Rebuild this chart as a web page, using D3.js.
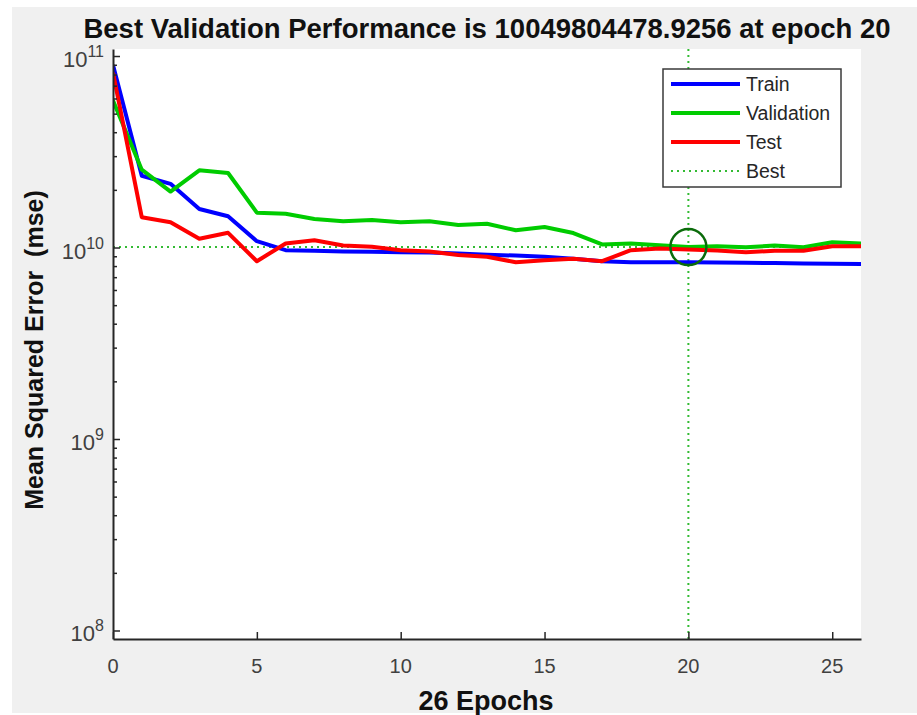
<!DOCTYPE html>
<html>
<head>
<meta charset="utf-8">
<script src="https://cdn.jsdelivr.net/npm/d3@7"></script>
<style>
  body { margin: 0; background: #fff; }
  text { font-family: "Liberation Sans", Arial, sans-serif; }
</style>
</head>
<body>
<div id="chart"></div>
<script>
// performance per epoch
const epochs = [0, 1, 2, 3, 4, 5, 6, 7, 8, 9, 10, 11, 12, 13, 14, 15, 16, 17, 18, 19, 20, 21, 22, 23, 24, 25, 26]
const trainPerf = [8.98e10, 2.37e10, 2.15e10, 1.59e10, 1.456e10, 1.079e10, 9.68e9, 9.61e9, 9.53e9, 9.50e9,
  9.45e9, 9.42e9, 9.31e9, 9.16e9, 9.08e9, 8.95e9, 8.73e9, 8.48e9, 8.38e9, 8.38e9,
  8.37e9, 8.35e9, 8.32e9, 8.30e9, 8.25e9, 8.22e9, 8.20e9]
const valPerf = [5.85e10, 2.55e10, 1.96e10, 2.53e10, 2.45e10, 1.52e10, 1.50e10, 1.41e10, 1.37e10, 1.39e10,
  1.355e10, 1.37e10, 1.31e10, 1.33e10, 1.23e10, 1.28e10, 1.19e10, 1.037e10, 1.049e10, 1.028e10,
  10049804478.9256, 1.016e10, 1.004e10, 1.024e10, 1.004e10, 1.066e10, 1.049e10]
const testPerf = [8.18e10, 1.44e10, 1.356e10, 1.11e10, 1.193e10, 8.48e9, 1.049e10, 1.091e10, 1.024e10, 1.008e10,
  9.68e9, 9.53e9, 9.14e9, 8.95e9, 8.38e9, 8.59e9, 8.73e9, 8.48e9, 9.68e9, 9.88e9,
  9.76e9, 9.65e9, 9.45e9, 9.61e9, 9.61e9, 1.016e10, 1.016e10]
const bestEpoch = 20
const bestPerf = 10049804478.9256
const seriesNames = ["Train", "Validation", "Test", "Best"]
const xTicks = [0, 5, 10, 15, 20, 25]
const yTicks = [1e8, 1e9, 1e10, 1e11]
const yTickExps = ["8", "9", "10", "11"]

const W = 917, H = 715
let plot = { left: 113, right: 861, top: 49, bottom: 639 }

const colors = {
  train: "#0000ff",
  val: "#00cc00",
  test: "#ff0000",
  best: "#33bb33",
  circle: "#0b6b0b",
  axis: "#262626"
}

let svg = d3.select("#chart").append("svg")
  .attr("width", W)
  .attr("height", H)

// figure background
svg.append("rect")
  .attr("x", 12).attr("y", 7)
  .attr("width", W - 12).attr("height", 706)
  .attr("fill", "#f0f0f0")

svg.append("rect")
  .attr("x", plot.left).attr("y", plot.top)
  .attr("width", plot.right - plot.left).attr("height", plot.bottom - plot.top)
  .attr("fill", "#fff")

let x = d3.scaleLinear().domain([0, 26]).range([plot.left, plot.right])
let y = d3.scaleLog()
  .domain([Math.pow(10, 7.9556), Math.pow(10, 11.0366)])
  .range([plot.bottom, plot.top])

svg.append("clipPath").attr("id", "clip")
  .append("rect")
  .attr("x", plot.left).attr("y", plot.top)
  .attr("width", plot.right - plot.left).attr("height", plot.bottom - plot.top)

let g = svg.append("g").attr("clip-path", "url(#clip)")

// best dotted lines
g.append("line")
  .attr("x1", plot.left).attr("x2", plot.right)
  .attr("y1", y(bestPerf)).attr("y2", y(bestPerf))
  .attr("stroke", colors.best).attr("stroke-width", 2)
  .attr("stroke-dasharray", "2,4")
g.append("line")
  .attr("x1", x(bestEpoch)).attr("x2", x(bestEpoch))
  .attr("y1", plot.top).attr("y2", plot.bottom)
  .attr("stroke", colors.best).attr("stroke-width", 2)
  .attr("stroke-dasharray", "2,4")

let line = d3.line()
  .x(function(d, i) { return x(epochs[i]) })
  .y(function(d) { return y(d) })

const series = [
  { values: trainPerf, color: colors.train },
  { values: valPerf, color: colors.val },
  { values: testPerf, color: colors.test }
]

g.selectAll(".series")
  .data(series)
  .enter()
  .append("path")
  .attr("class", "series")
  .attr("d", function(d) { return line(d.values) })
  .attr("fill", "none")
  .attr("stroke", function(d) { return d.color })
  .attr("stroke-width", 4)
  .attr("stroke-linejoin", "round")

// circle on the best point
g.append("circle")
  .attr("cx", x(bestEpoch))
  .attr("cy", y(bestPerf))
  .attr("r", 18)
  .attr("fill", "none")
  .attr("stroke", colors.circle)
  .attr("stroke-width", 2.5)

// axes
let xAxis = svg.append("g")
  .attr("transform", "translate(0," + plot.bottom + ")")
  .call(d3.axisBottom(x).tickValues(xTicks).tickSize(-7).tickSizeOuter(0).tickFormat(""))
xAxis.select(".domain").attr("stroke", colors.axis).attr("stroke-width", 2)
xAxis.selectAll(".tick line").attr("stroke", colors.axis).attr("stroke-width", 1.5)

let minorTicks = y.ticks().filter(function(v) { return yTicks.indexOf(v) < 0 })
let yMinor = svg.append("g")
  .attr("transform", "translate(" + plot.left + ",0)")
  .call(d3.axisLeft(y).tickValues(minorTicks).tickSize(-4).tickSizeOuter(0).tickFormat(""))
yMinor.select(".domain").remove()
yMinor.selectAll(".tick line").attr("stroke", colors.axis).attr("stroke-width", 1.5)

let yAxis = svg.append("g")
  .attr("transform", "translate(" + plot.left + ",0)")
  .call(d3.axisLeft(y).tickValues(yTicks).tickSize(-7).tickSizeOuter(0).tickFormat(""))
yAxis.select(".domain").attr("stroke", colors.axis).attr("stroke-width", 2)
yAxis.selectAll(".tick line").attr("stroke", colors.axis).attr("stroke-width", 1.5)

// tick labels
svg.selectAll(".xlabel")
  .data(xTicks)
  .enter()
  .append("text")
  .attr("class", "xlabel")
  .attr("x", function(d) { return x(d) })
  .attr("y", 673)
  .attr("text-anchor", "middle")
  .attr("font-size", 20)
  .attr("fill", "#404040")
  .text(function(d) { return d })

let yLabels = svg.selectAll(".ylabel")
  .data(yTicks)
  .enter()
  .append("text")
  .attr("class", "ylabel")
  .attr("x", 104)
  .attr("y", function(d) { return y(d) + 11 })
  .attr("text-anchor", "end")
  .attr("font-size", 22)
  .attr("fill", "#404040")
yLabels.append("tspan").text("10")
yLabels.append("tspan")
  .attr("dy", -10)
  .attr("font-size", 16)
  .text(function(d, i) { return yTickExps[i] })

// title and axis titles
svg.append("text")
  .attr("x", 487)
  .attr("y", 38)
  .attr("text-anchor", "middle")
  .attr("font-size", 27.5)
  .attr("font-weight", "bold")
  .attr("fill", "#111")
  .text("Best Validation Performance is " + bestPerf + " at epoch " + bestEpoch)

svg.append("text")
  .attr("x", 486)
  .attr("y", 710)
  .attr("text-anchor", "middle")
  .attr("font-size", 27)
  .attr("font-weight", "bold")
  .attr("fill", "#111")
  .text(epochs.length - 1 + " Epochs")

svg.append("text")
  .attr("transform", "translate(43,350) rotate(-90)")
  .attr("text-anchor", "middle")
  .attr("font-size", 25)
  .attr("font-weight", "bold")
  .attr("fill", "#111")
  .attr("xml:space", "preserve")
  .style("white-space", "pre")
  .text("Mean Squared Error  (mse)")

// legend
let legend = svg.append("g")
  .attr("transform", "translate(663,69)")

legend.append("rect")
  .attr("width", 178).attr("height", 118)
  .attr("fill", "#fff")
  .attr("stroke", "#3a3a3a")
  .attr("stroke-width", 1.5)

const legendColors = [colors.train, colors.val, colors.test, colors.best]

let item = legend.selectAll(".item")
  .data(seriesNames)
  .enter()
  .append("g")
  .attr("class", "item")
  .attr("transform", function(d, i) { return "translate(0," + (15 + i * 29) + ")" })

item.append("line")
  .attr("x1", 8).attr("x2", 77)
  .attr("stroke", function(d, i) { return legendColors[i] })
  .attr("stroke-width", function(d, i) { return i === 3 ? 2 : 4 })
  .attr("stroke-dasharray", function(d, i) { return i === 3 ? "2,4" : null })

item.append("text")
  .attr("x", 83)
  .attr("y", 7)
  .attr("font-size", 19.5)
  .attr("fill", "#262626")
  .text(function(d) { return d })
</script>
</body>
</html>
